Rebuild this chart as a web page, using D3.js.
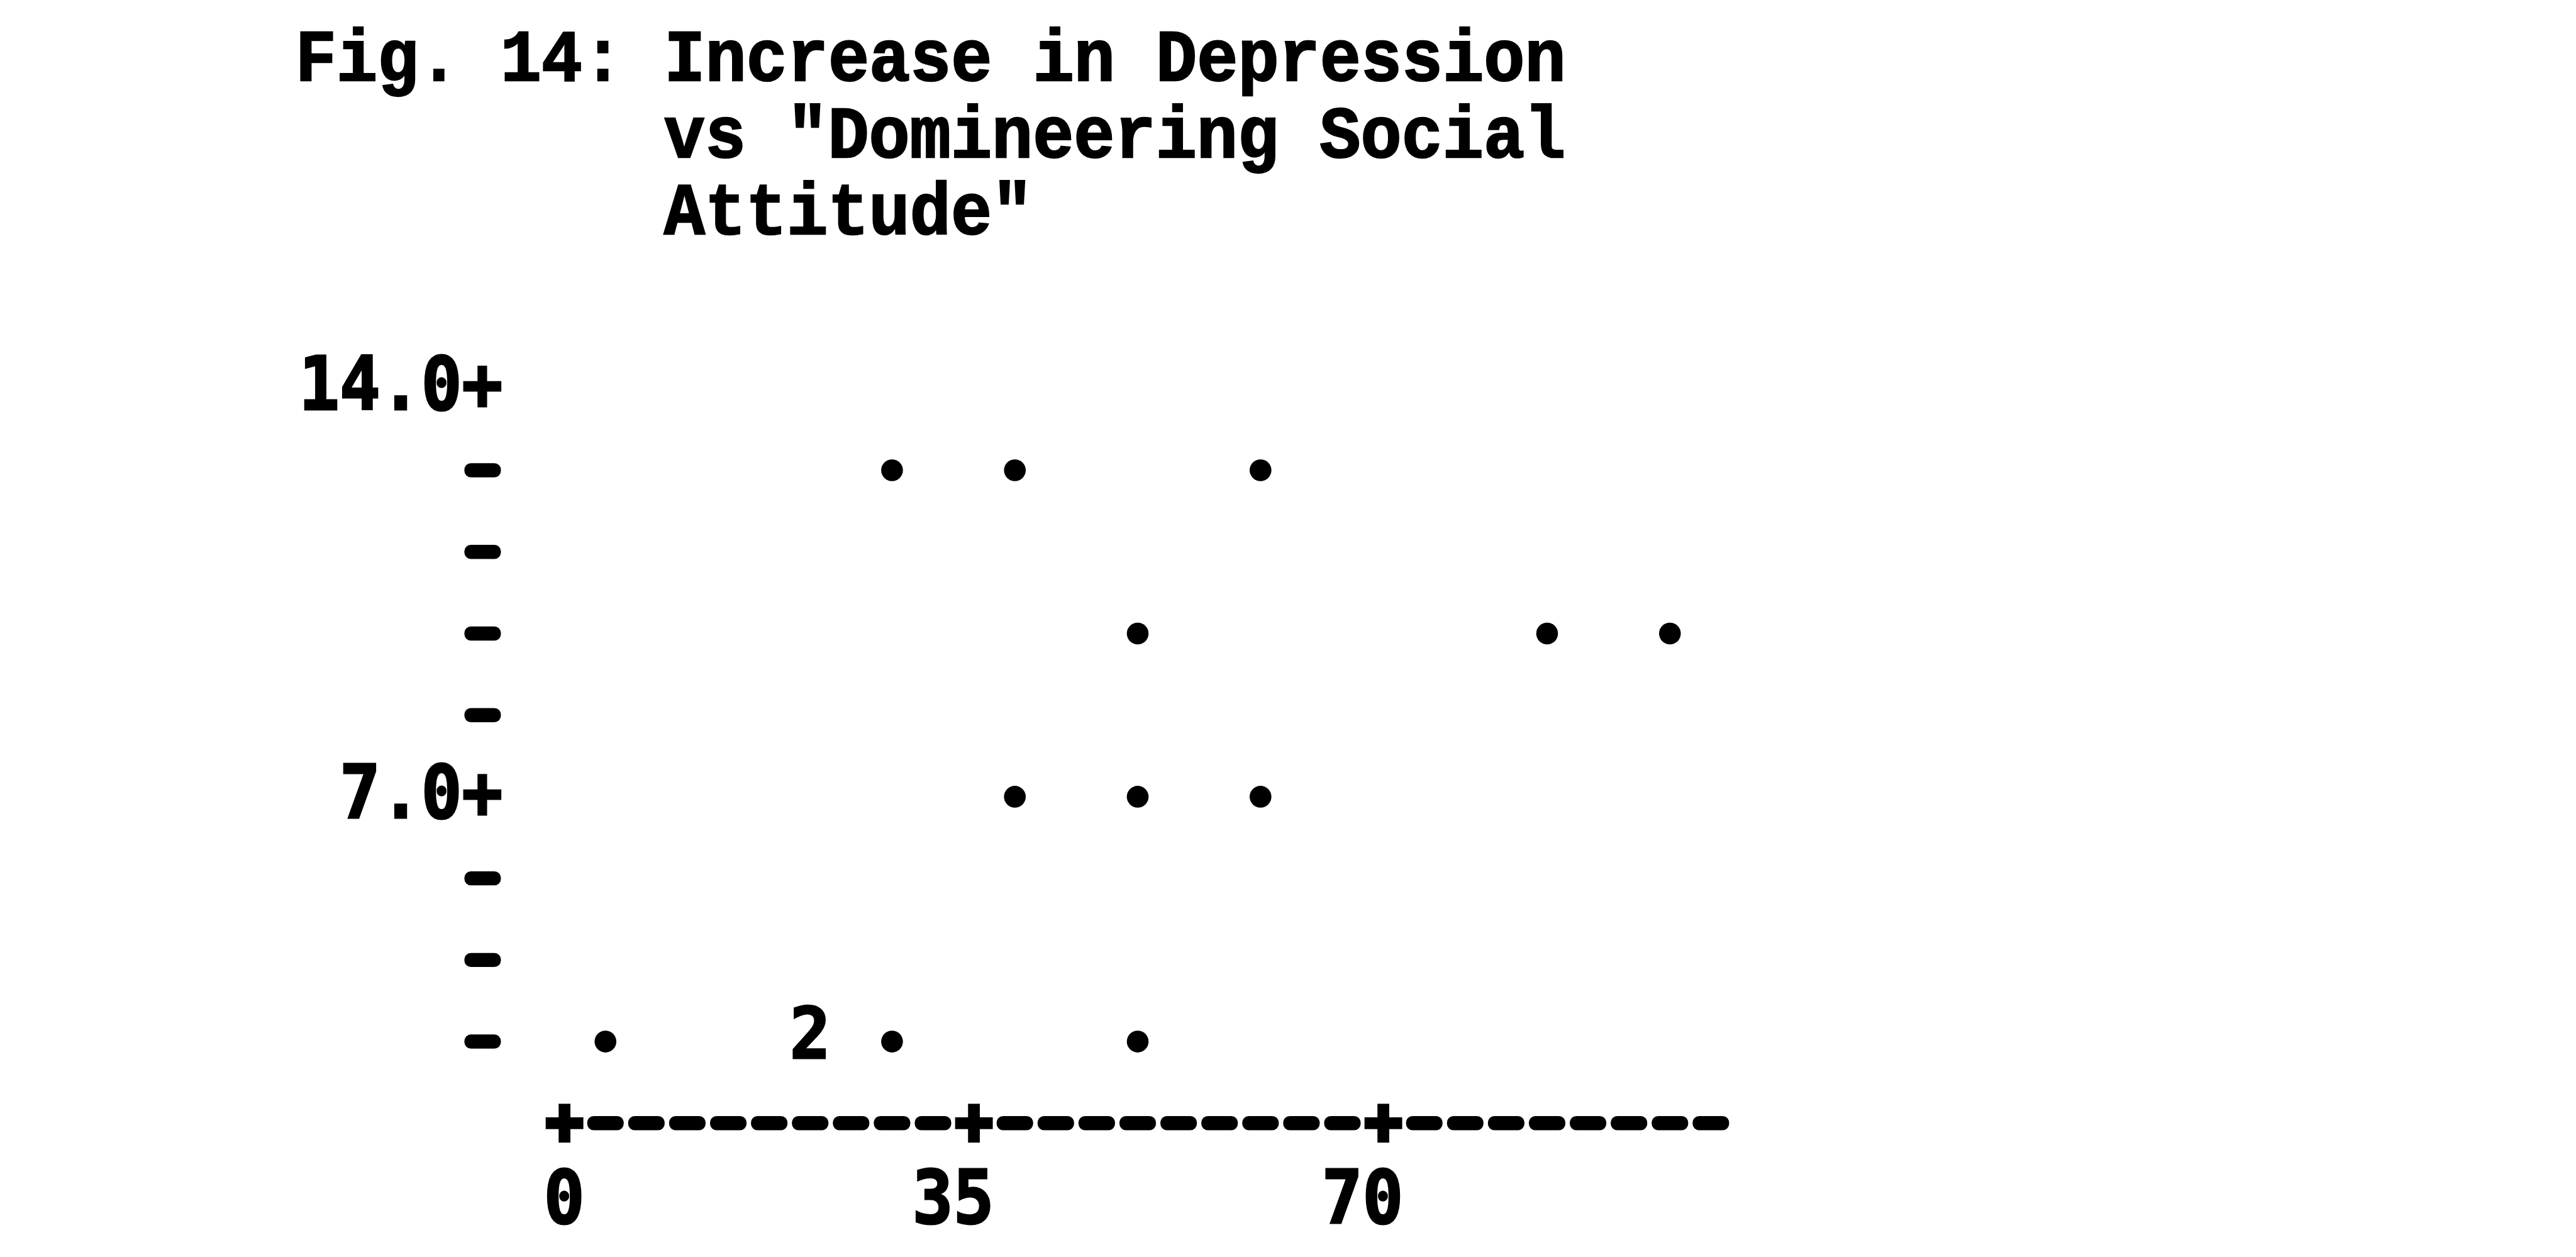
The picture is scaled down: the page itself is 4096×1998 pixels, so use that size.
<!DOCTYPE html>
<html>
<head>
<meta charset="utf-8">
<script src="https://cdn.jsdelivr.net/npm/d3@7"></script>
<style>
  html, body { margin: 0; padding: 0; background: #fff; }
  svg { display: block; }
  text { white-space: pre; }
</style>
</head>
<body>
<svg id="chart"></svg>
<script>
const titleLines = ['Fig. 14: Increase in Depression', 'vs "Domineering Social', 'Attitude"']

// each typed dot: x = domineering social attitude, y = increase in depression
const attitude   = [28, 38.5, 59.5, 49, 84, 94.5, 38.5, 49, 59.5, 3.5, 28, 49]
const depression = [12.6, 12.6, 12.6, 9.8, 9.8, 9.8, 7.0, 7.0, 7.0, 2.8, 2.8, 2.8]
// a digit instead of a dot = that many subjects on the same spot
const stackX = [21], stackY = [2.8], stackN = [2]

const xTicks = [0, 35, 70]
const yTicks = [14.0, 7.0]
const yTickLabels = ['14.0', '7.0']

const W = 4096, H = 1998, k = 0.936   // everything below is laid out in reference pixels
const pitch = 3.5, rowStep = 1.4       // one typewriter column / line in data units

const x = d3.scaleLinear([0, 70], [959, 2350])
const y = d3.scaleLinear([14, 7], [660, 1353])

const svg = d3.select('#chart').attr('width', W).attr('height', H)
svg.append('rect').attr('width', W).attr('height', H).attr('fill', '#fff')
const g = svg.append('g').attr('transform', `scale(${k})`)

const typeFont = 'Liberation Mono, DejaVu Sans Mono, monospace'
const tickFont = 'DejaVu Sans Mono, Liberation Mono, monospace'

// typed text is a bit taller than the fonts we have
function typed(sel, family, size, stretch, sw) {
    sel.attr('font-family', family)
        .attr('font-weight', 'bold')
        .attr('font-size', size)
        .attr('fill', '#000')
        .attr('stroke', '#000')
        .attr('stroke-width', sw)
        .attr('transform', `scale(1, ${stretch})`)
}

// title, typed in 10-pitch
g.append('g').attr('class', 'titulo')
    .selectAll('g')
    .data(titleLines)
    .join('g')
    .attr('transform', (d, i) => `translate(${i == 0 ? 502 : 1128}, ${137 + i * 130})`)
    .append('text')
    .text(d => d)
    .call(typed, typeFont, 116, 1.07, 2.5)

// y axis: a column of dashes with labelled "+" ticks
const yAxisX = x(-2 * pitch)
const yRows = d3.range(14, 2.8 - 0.01, -rowStep).map(v => +v.toFixed(1))
g.append('g').attr('class', 'axis-y')
    .selectAll('rect')
    .data(yRows.filter(v => !yTicks.includes(v)))
    .join('rect')
    .attr('x', yAxisX - 31)
    .attr('y', d => y(d) - 12)
    .attr('width', 62)
    .attr('height', 24)
    .attr('rx', 11)
    .attr('fill', '#000')

g.select('.axis-y')
    .selectAll('g')
    .data(yTicks)
    .join('g')
    .attr('transform', d => `translate(${yAxisX + 34}, ${y(d) + 36})`)
    .append('text')
    .attr('text-anchor', 'end')
    .text((d, i) => yTickLabels[i] + '+')
    .call(typed, tickFont, 115, 1.1, 3)

// x axis: +---------+---------+-------- along the line below the lowest row
const xAxisY = y(2.8 - rowStep)
const xCols = d3.range(0, 98 + 0.01, pitch).map(v => +v.toFixed(1))
const axisX = g.append('g').attr('class', 'axis-x')
axisX.selectAll('rect.dash')
    .data(xCols.filter(v => !xTicks.includes(v)))
    .join('rect')
    .attr('class', 'dash')
    .attr('x', d => x(d) - 31)
    .attr('y', xAxisY - 12)
    .attr('width', 62)
    .attr('height', 24)
    .attr('rx', 11)
    .attr('fill', '#000')

axisX.selectAll('g.plus')
    .data(xTicks)
    .join('g')
    .attr('class', 'plus')
    .attr('transform', d => `translate(${x(d)},${xAxisY})`)
    .call(p => p.append('rect').attr('x', -32).attr('y', -10).attr('width', 64).attr('height', 20).attr('fill', '#000'))
    .call(p => p.append('rect').attr('x', -10).attr('y', -33).attr('width', 20).attr('height', 66).attr('fill', '#000'))

axisX.selectAll('g.lab')
    .data(xTicks)
    .join('g')
    .attr('class', 'lab')
    .attr('transform', d => `translate(${x(d) + 34}, ${xAxisY + 170})`)
    .append('text')
    .attr('text-anchor', 'end')
    .text(d => d)
    .call(typed, tickFont, 115, 1.1, 3)

// the dots
g.append('g').attr('class', 'puntos')
    .selectAll('circle')
    .data(attitude)
    .join('circle')
    .attr('cx', d => x(d))
    .attr('cy', (d, i) => y(depression[i]))
    .attr('r', 18.5)
    .attr('fill', '#000')

g.append('g').attr('class', 'conteos')
    .selectAll('g')
    .data(stackN)
    .join('g')
    .attr('transform', (d, i) => `translate(${x(stackX[i])}, ${y(stackY[i]) + 28})`)
    .append('text')
    .attr('text-anchor', 'middle')
    .text(d => d)
    .call(typed, tickFont, 115, 1.05, 3)
</script>
</body>
</html>
